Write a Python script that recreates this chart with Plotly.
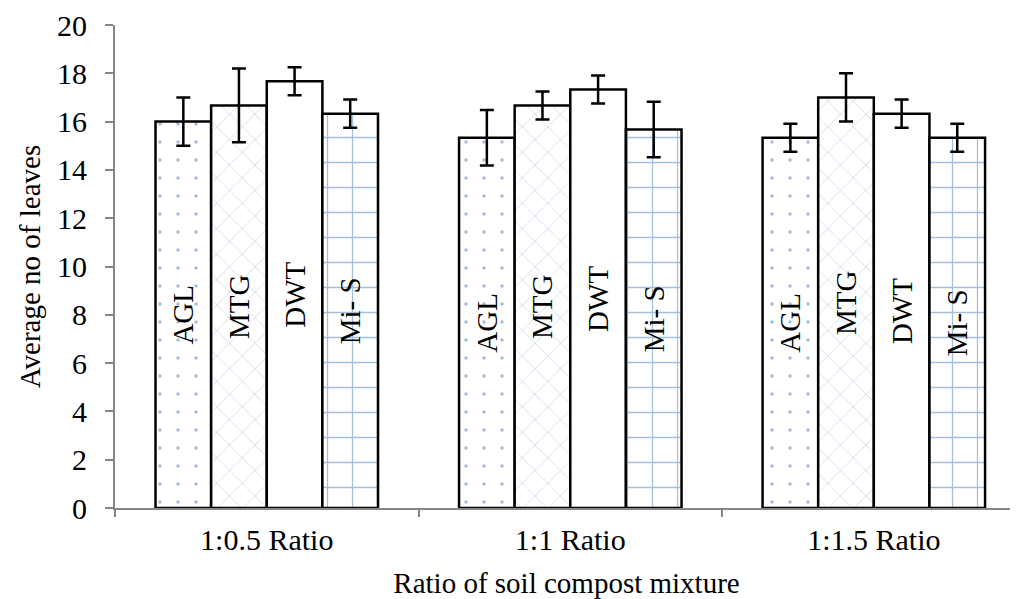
import plotly.graph_objects as go

categories = ["1:0.5 Ratio", "1:1 Ratio", "1:1.5 Ratio"]
series_names = ["AGL", "MTG", "DWT", "Mi- S"]
agl = [16.0, 15.33, 15.33]
agl_err = [1.0, 1.15, 0.58]
mtg = [16.67, 16.67, 17.0]
mtg_err = [1.53, 0.58, 1.0]
dwt = [17.67, 17.33, 16.33]
dwt_err = [0.58, 0.58, 0.58]
mis = [16.33, 15.67, 15.33]
mis_err = [0.58, 1.15, 0.58]
y_ticks = [0, 2, 4, 6, 8, 10, 12, 14, 16, 18, 20]

BLUE = "#4A7EBB"
FONT = "Liberation Serif"
FS = 29
TICK_FS = 30

values = [agl, mtg, dwt, mis]
errors = [agl_err, mtg_err, dwt_err, mis_err]
patterns = [
    dict(shape=".", size=18, solidity=0.03, fgcolor=BLUE, bgcolor="white", fillmode="overlay"),
    dict(shape="x", size=18, solidity=0.05, fgcolor=BLUE, bgcolor="white", fillmode="overlay"),
    dict(shape="", fgcolor=BLUE, bgcolor="white"),
    dict(shape="+", size=25, solidity=0.1, fgcolor=BLUE, bgcolor="white", fillmode="overlay"),
]

fig = go.Figure()
for name, vals, errs, pat in zip(series_names, values, errors, patterns):
    fig.add_trace(go.Bar(
        x=categories, y=vals, name=name,
        marker=dict(color="white", line=dict(color="black", width=2.5), pattern=pat),
        error_y=dict(type="data", array=errs, visible=True, color="black", thickness=2.5, width=7),
        text=[name] * len(vals), texttemplate="%{text}", textposition="inside",
        insidetextanchor="middle", textangle=-90,
        textfont=dict(family=FONT, size=FS, color="black"),
        showlegend=False,
    ))

fig.update_layout(
    width=1010, height=591,
    margin=dict(l=107, r=0, t=17, b=91),
    paper_bgcolor="white", plot_bgcolor="white",
    barmode="group", bargap=0.267, bargroupgap=0,
    font=dict(family=FONT, size=FS, color="black"),
    uniformtext=dict(minsize=FS, mode="show"),
)
fig.update_xaxes(
    type="category", range=[-0.5, 2.475], tickson="boundaries",
    automargin=False,
    showline=True, linecolor="#868686", linewidth=2,
    ticks="outside", ticklen=7, tickcolor="#868686", tickwidth=2,
    ticklabelstandoff=4,
    showgrid=False, zeroline=False,
    tickfont=dict(family=FONT, size=TICK_FS, color="black"),
    title=dict(text="Ratio of soil compost mixture", font=dict(family=FONT, size=FS, color="black"), standoff=18),
)
fig.update_yaxes(
    range=[0, 20], tickvals=y_ticks,
    automargin=False, ticklabeloverflow="allow",
    showline=True, linecolor="#868686", linewidth=2,
    ticks="outside", ticklen=8, tickcolor="#868686", tickwidth=2,
    ticklabelstandoff=12,
    showgrid=False, zeroline=False,
    tickfont=dict(family=FONT, size=TICK_FS, color="black"),
    title=dict(text="Average no of leaves", font=dict(family=FONT, size=FS, color="black"), standoff=8),
)
fig.write_html("out.html")
